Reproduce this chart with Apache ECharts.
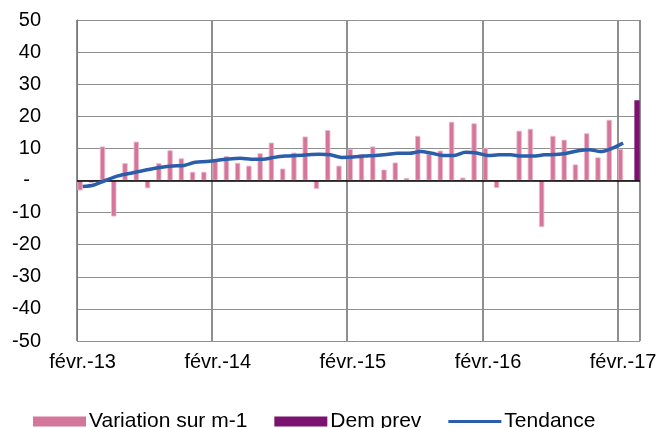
<!DOCTYPE html>
<html>
<head>
<meta charset="utf-8">
<script src="https://cdn.jsdelivr.net/npm/echarts@6/dist/echarts.min.js"></script>
<style>
html,body{margin:0;padding:0;background:#fff;}
#chart{width:661px;height:428px;}
</style>
</head>
<body>
<div id="chart"></div>
<script>
var categories = [
  'févr.-13','mars-13','avr.-13','mai-13','juin-13','juil.-13','août-13','sept.-13','oct.-13','nov.-13','déc.-13','janv.-14',
  'févr.-14','mars-14','avr.-14','mai-14','juin-14','juil.-14','août-14','sept.-14','oct.-14','nov.-14','déc.-14','janv.-15',
  'févr.-15','mars-15','avr.-15','mai-15','juin-15','juil.-15','août-15','sept.-15','oct.-15','nov.-15','déc.-15','janv.-16',
  'févr.-16','mars-16','avr.-16','mai-16','juin-16','juil.-16','août-16','sept.-16','oct.-16','nov.-16','déc.-16','janv.-17',
  'févr.-17','mars-17'
];
var variation = [
  -3.1, -0.7, 10.6, -11.2, 5.4, 12.1, -2.4, 5.4, 9.4, 6.9, 2.7, 2.7,
  6.2, 7.6, 5.5, 4.6, 8.5, 11.8, 3.7, 8.7, 13.7, -2.6, 15.7, 4.6,
  9.8, 8.3, 10.6, 3.4, 5.6, 0.8, 13.9, 8.3, 9.3, 18.3, 0.9, 17.8,
  10.2, -2.3, -0.3, 15.5, 16.1, -14.5, 13.9, 12.7, 5.0, 14.7, 7.2, 18.9,
  9.8, null
];
var demPrev = [
  null, null, null, null, null, null, null, null, null, null, null, null,
  null, null, null, null, null, null, null, null, null, null, null, null,
  null, null, null, null, null, null, null, null, null, null, null, null,
  null, null, null, null, null, null, null, null, null, null, null, null,
  null, 25
];
var tendance = [
  -1.9, -1.4, 0.0, 1.3, 2.1, 2.8, 3.5, 4.1, 4.5, 4.7, 5.7, 5.9,
  6.3, 6.7, 6.9, 6.6, 6.6, 7.2, 7.6, 7.8, 8.0, 8.2, 8.0, 7.2,
  7.3, 7.6, 7.8, 8.1, 8.5, 8.5, 9.0, 8.5, 7.8, 7.8, 8.8, 8.6,
  7.8, 8.0, 8.0, 7.6, 7.6, 8.0, 8.1, 8.5, 9.3, 9.6, 9.0, 10.0,
  11.7, null
];
var seriesNames = ['Variation sur m-1', 'Dem prev', 'Tendance'];

var FONT = '"Liberation Sans", Arial, sans-serif';
var chart = echarts.init(document.getElementById('chart'), null, {renderer: 'canvas'});
chart.setOption({
  animation: false,
  backgroundColor: '#ffffff',
  grid: {left: 77, right: 21, top: 20, bottom: 87, containLabel: false},
  legend: {
    left: 28, top: 406,
    itemWidth: 53, itemHeight: 10, itemGap: 27,
    symbolKeepAspect: true,
    textStyle: {fontFamily: FONT, fontSize: 21, color: '#000', padding: [0, 0, 0, -2]},
    data: [
      {name: seriesNames[0], icon: 'rect', itemStyle: {borderWidth: 0}},
      {name: seriesNames[1], icon: 'rect'},
      {name: seriesNames[2], icon: 'path://M0,0H53V3H0Z', itemStyle: {color: '#2A5DAA', borderWidth: 0}}
    ]
  },
  xAxis: {
    type: 'category',
    data: categories,
    boundaryGap: true,
    axisLine: {show: false},
    axisTick: {show: false},
    axisLabel: {interval: 11, margin: 11, fontFamily: FONT, fontSize: 20, color: '#000'},
    splitLine: {show: true, interval: 11, lineStyle: {color: '#8f8f8f', width: 2}}
  },
  yAxis: {
    type: 'value',
    min: -50, max: 50, interval: 10,
    axisLine: {show: true, lineStyle: {color: '#7a7a7a', width: 1}},
    axisTick: {show: false},
    axisLabel: {
      margin: 36, fontFamily: FONT, fontSize: 20, color: '#000',
      formatter: function (v) { return v === 0 ? '-  ' : String(v); }
    },
    splitLine: {show: true, lineStyle: {color: '#8f8f8f', width: 1}}
  },
  series: [
    {
      name: seriesNames[0], type: 'bar', data: variation,
      barGap: '0%', barCategoryGap: '6%',
      itemStyle: {color: '#D4759A', borderColor: '#EDB8CC', borderWidth: 0.8}
    },
    {
      name: seriesNames[1], type: 'bar', data: demPrev,
      itemStyle: {color: '#7B1270'}
    },
    {
      name: seriesNames[2], type: 'line', data: tendance,
      smooth: 0.3, symbol: 'none', showSymbol: false,
      lineStyle: {color: '#2A5DAA', width: 3.5},
      itemStyle: {color: '#2A5DAA'},
      z: 5,
      markLine: {
        silent: true, symbol: 'none', label: {show: false},
        lineStyle: {color: '#000', width: 1.5, type: 'solid'},
        data: [{yAxis: 0}],
        z: 4
      }
    }
  ]
});
</script>
</body>
</html>
